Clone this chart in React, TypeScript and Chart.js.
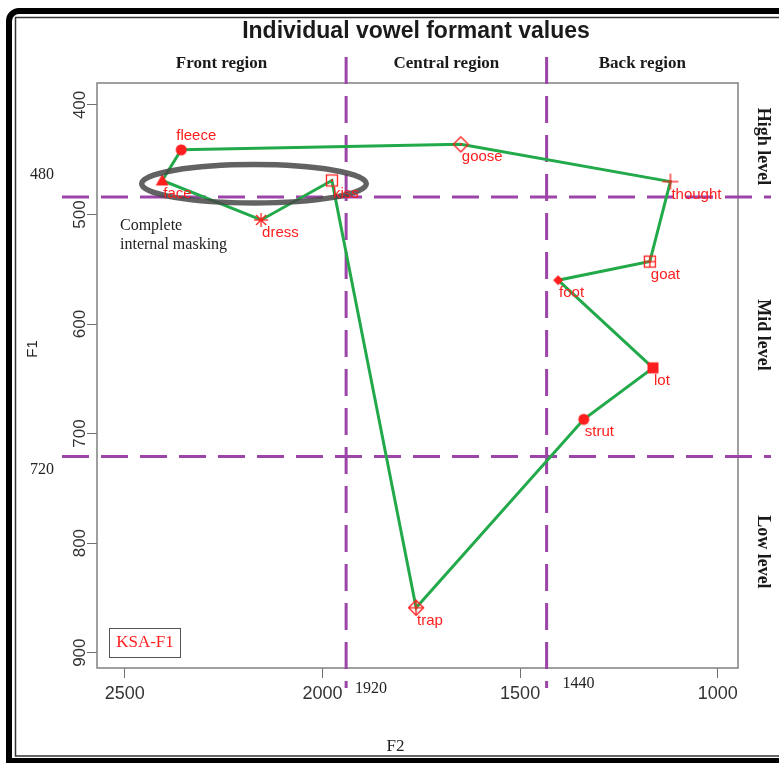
import React, { useEffect, useRef } from "react";
import { Chart, registerables } from "chart.js";
Chart.register(...registerables);

// ---- data ----
const vowels = ["fleece", "face", "dress", "kiss", "goose", "thought", "goat", "foot", "lot", "strut", "trap"];
const f2Values = [2357, 2405, 2155, 1976, 1650, 1120, 1172, 1404, 1164, 1339, 1763];
const f1Values = [441, 469, 505, 469, 436, 470, 543, 560, 640, 687, 859];
const markerKinds = ["dot", "triangle", "asterisk", "squareDot", "diamondDot", "plus", "squarePlus", "diamondFilled", "squareFilled", "dot", "diamondPlus"];
const pathOrder = ["fleece", "goose", "thought", "goat", "foot", "lot", "strut", "trap", "kiss", "dress", "face", "fleece"];
const xTickValues = [2500, 2000, 1500, 1000];
const yTickValues = [400, 500, 600, 700, 800, 900];
const f2Boundaries = [1940, 1433];
const f2BoundaryLabels = ["1920", "1440"];
const f1Boundaries = [484, 721];
const f1BoundaryLabels = ["480", "720"];
const regionLabels = ["Front region", "Central region", "Back region"];
const levelLabels = ["High level", "Mid level", "Low level"];
const levelCentres = [438, 610, 808]; // F1 value at the centre of each level label
const maskingEllipse = [2173, 472, 284, 17.5]; // centre F2, centre F1, radius F2, radius F1
const maskingText = ["Complete", "internal masking"];
const speakerLabel = "KSA-F1";
const titleText = "Individual vowel formant values";

const RED = "#ff1e1e";
const GREEN = "#22a94a";
const PURPLE = "#9c44a8";

function makeMarker(kind: string): HTMLCanvasElement {
  const c = document.createElement("canvas");
  const S = 20;
  c.width = S;
  c.height = S;
  const g = c.getContext("2d")!;
  const m = S / 2;
  g.strokeStyle = RED;
  g.fillStyle = RED;
  g.lineWidth = 1.3;
  const line = (x1: number, y1: number, x2: number, y2: number) => {
    g.beginPath();
    g.moveTo(x1, y1);
    g.lineTo(x2, y2);
    g.stroke();
  };
  const diamond = (r: number) => {
    g.beginPath();
    g.moveTo(m, m - r);
    g.lineTo(m + r, m);
    g.lineTo(m, m + r);
    g.lineTo(m - r, m);
    g.closePath();
  };
  switch (kind) {
    case "dot":
      g.beginPath();
      g.arc(m, m, 5.5, 0, Math.PI * 2);
      g.fill();
      break;
    case "triangle":
      g.beginPath();
      g.moveTo(m, m - 6.5);
      g.lineTo(m + 6.5, m + 5);
      g.lineTo(m - 6.5, m + 5);
      g.closePath();
      g.fill();
      break;
    case "asterisk": {
      const r = 7;
      line(m - r, m, m + r, m);
      line(m, m - r, m, m + r);
      const d = r * 0.72;
      line(m - d, m - d, m + d, m + d);
      line(m - d, m + d, m + d, m - d);
      break;
    }
    case "squareDot":
      g.strokeRect(m - 5.5, m - 5.5, 11, 11);
      g.fillRect(m - 1, m - 1, 2, 2);
      break;
    case "diamondDot":
      diamond(7.5);
      g.stroke();
      g.fillRect(m - 1, m - 1, 2, 2);
      break;
    case "plus":
      line(m - 8, m, m + 8, m);
      line(m, m - 8, m, m + 8);
      break;
    case "squarePlus":
      g.strokeRect(m - 5.5, m - 5.5, 11, 11);
      line(m - 5.5, m, m + 5.5, m);
      line(m, m - 5.5, m, m + 5.5);
      break;
    case "diamondFilled":
      diamond(5);
      g.fill();
      break;
    case "squareFilled":
      g.fillRect(m - 5.5, m - 5.5, 11, 11);
      break;
    case "diamondPlus":
      diamond(7.5);
      g.stroke();
      line(m - 7.5, m, m + 7.5, m);
      line(m, m - 7.5, m, m + 7.5);
      break;
  }
  return c;
}

export default function App() {
  const ref = useRef<HTMLCanvasElement>(null);
  useEffect(() => {
    const canvas = ref.current!;
    const points = vowels.map((v, i) => ({ x: f2Values[i], y: f1Values[i] }));
    const path = pathOrder.map((n) => points[vowels.indexOf(n)]);
    const styles = markerKinds.map((k) => makeMarker(k));

    const overlay = {
      id: "overlay",
      beforeDraw(chart: any) {
        const ctx = chart.ctx;
        ctx.save();
        ctx.fillStyle = "#fff";
        ctx.fillRect(0, 0, chart.width, chart.height);
        ctx.restore();
      },
      beforeDatasetsDraw(chart: any) {
        const ctx = chart.ctx;
        const { left, right, top, bottom } = chart.chartArea;
        const xs = chart.scales.x;
        const ys = chart.scales.y;
        ctx.save();
        // plot box
        ctx.strokeStyle = "#808080";
        ctx.lineWidth = 1.5;
        ctx.strokeRect(left, top, right - left, bottom - top);
        // boundary lines
        ctx.strokeStyle = PURPLE;
        ctx.lineWidth = 3;
        ctx.setLineDash([27, 12]);
        f2Boundaries.forEach((v) => {
          const px = xs.getPixelForValue(v);
          ctx.beginPath();
          ctx.moveTo(px, 57);
          ctx.lineTo(px, 688);
          ctx.stroke();
        });
        f1Boundaries.forEach((v) => {
          const py = ys.getPixelForValue(v);
          ctx.beginPath();
          ctx.moveTo(62, py);
          ctx.lineTo(771, py);
          ctx.stroke();
        });
        ctx.restore();
      },
      afterDatasetsDraw(chart: any) {
        const ctx = chart.ctx;
        const xs = chart.scales.x;
        const ys = chart.scales.y;
        ctx.save();
        // masking ellipse
        const cx = xs.getPixelForValue(maskingEllipse[0]);
        const cy = ys.getPixelForValue(maskingEllipse[1]);
        const rx = Math.abs(xs.getPixelForValue(maskingEllipse[0] + maskingEllipse[2]) - cx);
        const ry = Math.abs(ys.getPixelForValue(maskingEllipse[1] + maskingEllipse[3]) - cy);
        ctx.strokeStyle = "rgba(70,70,70,0.85)";
        ctx.lineWidth = 5.5;
        ctx.beginPath();
        ctx.ellipse(cx, cy, rx, ry, 0, 0, Math.PI * 2);
        ctx.stroke();
        // point labels
        ctx.fillStyle = RED;
        ctx.font = '15px "Liberation Sans", Arial, sans-serif';
        ctx.textBaseline = "middle";
        vowels.forEach((v, i) => {
          const px = xs.getPixelForValue(f2Values[i]);
          const py = ys.getPixelForValue(f1Values[i]);
          if (v === "fleece") {
            ctx.textAlign = "center";
            ctx.fillText(v, px + 15, py - 14);
          } else {
            ctx.textAlign = "left";
            ctx.fillText(v, px + 1, py + 13);
          }
        });
        ctx.restore();
      },
      afterDraw(chart: any) {
        const ctx = chart.ctx;
        const { left, right } = chart.chartArea;
        const xs = chart.scales.x;
        const ys = chart.scales.y;
        ctx.save();
        ctx.fillStyle = "#1a1a1a";
        ctx.textAlign = "center";
        ctx.textBaseline = "middle";
        // title
        ctx.font = 'bold 23px "Liberation Sans", Arial, sans-serif';
        ctx.fillText(titleText, 416, 32);
        // region labels
        ctx.font = 'bold 17px "Liberation Serif", "Times New Roman", serif';
        const bx = [left, ...f2Boundaries.map((v) => xs.getPixelForValue(v)), right];
        regionLabels.forEach((t, i) => {
          ctx.fillText(t, (bx[i] + bx[i + 1]) / 2, 64);
        });
        // level labels (rotated clockwise)
        ctx.font = 'bold 18px "Liberation Serif", "Times New Roman", serif';
        levelLabels.forEach((t, i) => {
          ctx.save();
          ctx.translate(763, ys.getPixelForValue(levelCentres[i]));
          ctx.rotate(Math.PI / 2);
          ctx.fillText(t, 0, 0);
          ctx.restore();
        });
        // y tick labels rotated
        ctx.fillStyle = "#333";
        ctx.font = '17px "Liberation Sans", Arial, sans-serif';
        ys.ticks.forEach((tk: any) => {
          const py = ys.getPixelForValue(tk.value);
          ctx.save();
          ctx.translate(80, py);
          ctx.rotate(-Math.PI / 2);
          ctx.fillText(String(tk.value), 0, 0);
          ctx.restore();
        });
        // axis titles
        ctx.fillStyle = "#222";
        ctx.font = '15px "Liberation Sans", Arial, sans-serif';
        ctx.save();
        ctx.translate(33, 349);
        ctx.rotate(-Math.PI / 2);
        ctx.fillText("F1", 0, 0);
        ctx.restore();
        ctx.font = '17px "Liberation Serif", "Times New Roman", serif';
        ctx.fillText("F2", (left + right) / 2 - 22, 747);
        // boundary value labels
        ctx.font = '16px "Liberation Serif", "Times New Roman", serif';
        f1BoundaryLabels.forEach((t, i) => {
          const py = ys.getPixelForValue(f1Boundaries[i]);
          ctx.fillText(t, 42, py - 22 + i * 35);
        });
        ctx.textAlign = "left";
        f2BoundaryLabels.forEach((t, i) => {
          const px = xs.getPixelForValue(f2Boundaries[i]);
          ctx.fillText(t, px + 9 + i * 7, 689 - i * 5);
        });
        // masking text
        ctx.font = '16px "Liberation Serif", "Times New Roman", serif';
        ctx.fillText(maskingText[0], 120, 226);
        ctx.fillText(maskingText[1], 120, 245);
        // speaker box
        ctx.strokeStyle = "#555";
        ctx.lineWidth = 1;
        ctx.strokeRect(109.5, 628.5, 71, 29);
        ctx.fillStyle = RED;
        ctx.textAlign = "center";
        ctx.font = '17px "Liberation Serif", "Times New Roman", serif';
        ctx.fillText(speakerLabel, 145, 643);
        // outer frame
        ctx.strokeStyle = "#000";
        ctx.lineWidth = 6;
        ctx.beginPath();
        ctx.moveTo(800, 761);
        ctx.lineTo(9, 761);
        ctx.lineTo(9, 22);
        ctx.arcTo(9, 11, 20, 11, 10);
        ctx.lineTo(800, 11);
        ctx.stroke();
        ctx.strokeStyle = "#333";
        ctx.lineWidth = 1.5;
        ctx.beginPath();
        ctx.moveTo(800, 756);
        ctx.lineTo(15.5, 756);
        ctx.lineTo(15.5, 17.5);
        ctx.lineTo(800, 17.5);
        ctx.stroke();
        ctx.restore();
      },
    };

    const chart = new Chart(canvas, {
      type: "scatter",
      data: {
        datasets: [
          {
            data: path,
            showLine: true,
            borderColor: GREEN,
            borderWidth: 3,
            pointRadius: 0,
            fill: false,
            order: 2,
          },
          {
            data: points,
            showLine: false,
            pointStyle: styles as any,
            pointRadius: 7,
            order: 1,
          },
        ],
      } as any,
      options: {
        responsive: false,
        animation: false,
        devicePixelRatio: 1,
        layout: { padding: { top: 83, right: 41, left: 0, bottom: 0 } },
        plugins: { legend: { display: false }, tooltip: { enabled: false }, title: { display: false } },
        scales: {
          x: {
            type: "linear",
            reverse: true,
            min: 949,
            max: 2570,
            afterBuildTicks: (s: any) => {
              s.ticks = xTickValues.map((v) => ({ value: v }));
            },
            afterFit: (s: any) => {
              s.height = 95;
            },
            border: { display: false },
            grid: { drawOnChartArea: false, drawTicks: true, tickLength: 10, color: "#707070", lineWidth: 1 },
            ticks: {
              color: "#333",
              padding: 5,
              maxRotation: 0,
              callback: (v: any) => String(v),
              font: { family: '"Liberation Sans", Arial, sans-serif', size: 18 },
            },
          },
          y: {
            type: "linear",
            reverse: true,
            min: 380,
            max: 914,
            afterBuildTicks: (s: any) => {
              s.ticks = yTickValues.map((v) => ({ value: v }));
            },
            afterFit: (s: any) => {
              s.width = 97;
            },
            border: { display: false },
            grid: { drawOnChartArea: false, drawTicks: true, tickLength: 10, color: "#707070", lineWidth: 1 },
            ticks: { color: "rgba(0,0,0,0)", font: { size: 12 }, callback: (v: any) => String(v) },
          },
        },
      } as any,
      plugins: [overlay],
    });
    return () => chart.destroy();
  }, []);
  return (
    <div style={{ position: "fixed", left: 0, top: 0, width: 779, height: 763, background: "#fff" }}>
      <canvas ref={ref} width={779} height={763} style={{ display: "block", width: 779, height: 763 }} />
    </div>
  );
}
